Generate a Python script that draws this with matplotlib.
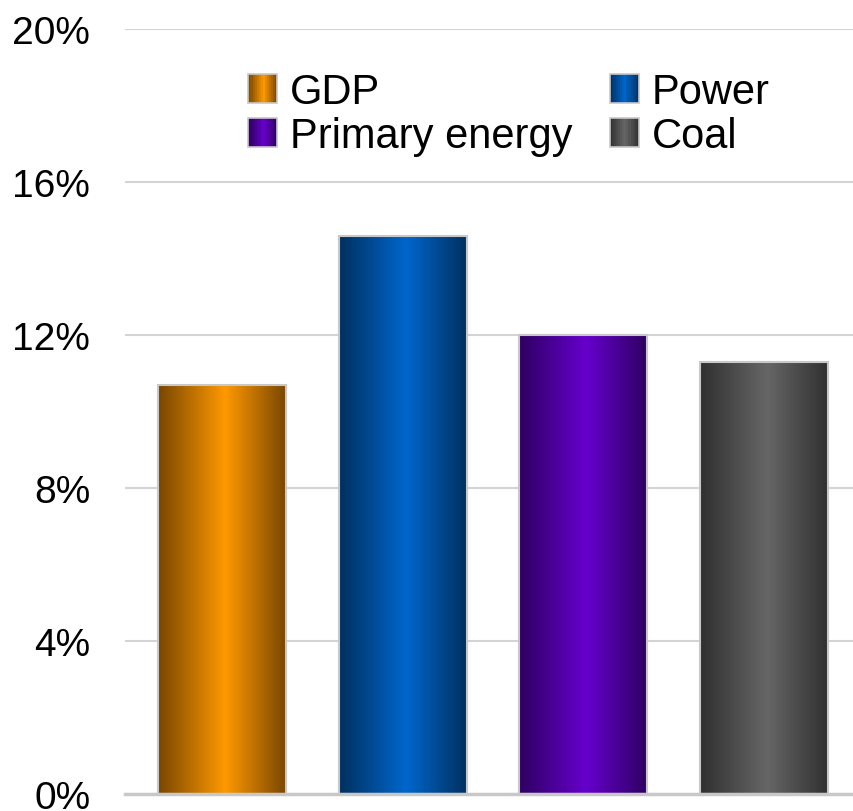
import matplotlib
matplotlib.use('Agg')
import matplotlib.pyplot as plt
import numpy as np
from matplotlib.colors import LinearSegmentedColormap
from matplotlib.legend_handler import HandlerBase
from matplotlib.patches import Rectangle, Patch

plt.rcParams['font.family'] = ['Liberation Sans', 'DejaVu Sans']

# data
categories = ['GDP', 'Power', 'Primary energy', 'Coal']
values = [10.7, 14.6, 12.0, 11.3]
bright = ['#ff9900', '#0066cc', '#6600cc', '#666666']
dark = ['#784600', '#00305e', '#2e0060', '#303030']
yticks = [0, 4, 8, 12, 16, 20]


def grad_cmap(c_dark, c_bright):
    return LinearSegmentedColormap.from_list('g', [(0, c_dark), (0.52, c_bright), (1, c_dark)])


class GradHandler(HandlerBase):
    def __init__(self, cmap):
        super().__init__()
        self.cmap = cmap

    def create_artists(self, legend, orig_handle, xdescent, ydescent, width, height, fontsize, trans):
        size = height * 0.98
        x0 = -xdescent + (width - size) / 2
        y0 = -ydescent + (height - size) / 2
        n = 14
        arts = []
        for i in range(n):
            r = Rectangle((x0 + size * i / n, y0), size / n + 0.3, size,
                          facecolor=self.cmap((i + 0.5) / n), edgecolor='none', transform=trans)
            arts.append(r)
        arts.append(Rectangle((x0, y0), size, size, facecolor='none', edgecolor='#c8c8c8', lw=1.2, transform=trans))
        return arts


fig = plt.figure(figsize=(8.54, 8.12), dpi=100)
ax = fig.add_axes([125 / 854, 1 - 795 / 812, 729 / 854, 765 / 812])

x = np.arange(len(categories))
bars = ax.bar(x, values, width=0.71, facecolor='none', edgecolor='#c8c8c8', linewidth=1.5, zorder=3)

cmaps = []
for b, cd, cb in zip(bars, dark, bright):
    cm = grad_cmap(cd, cb)
    cmaps.append(cm)
    x0, y0 = b.get_x(), b.get_y()
    w, h = b.get_width(), b.get_height()
    grad = np.linspace(0, 1, 256).reshape(1, -1)
    im = ax.imshow(grad, cmap=cm, extent=(x0, x0 + w, y0, y0 + h), aspect='auto', zorder=2)
    im.set_clip_path(b)

ax.set_xlim(-0.537, 3.498)
ax.set_ylim(0, 20)
ax.set_yticks(yticks)
ax.set_yticklabels([f'{v}%' for v in yticks], fontsize=28)
ax.tick_params(axis='y', length=0, pad=25)
ax.set_xticks([])
ax.yaxis.grid(True, color='#d4d4d4', linewidth=1.5, zorder=0)
ax.set_axisbelow(True)
for s in ['top', 'right', 'left']:
    ax.spines[s].set_visible(False)
ax.spines['bottom'].set_color('#c8c8c8')
ax.spines['bottom'].set_linewidth(2.5)
ax.spines['bottom'].set_zorder(4)

handles = [Patch(label=c) for c in categories]
handler_map = {h: GradHandler(cm) for h, cm in zip(handles, cmaps)}
order = [0, 2, 1, 3]
ax.legend([handles[i] for i in order], [categories[i] for i in order],
          handler_map=handler_map, ncol=2, frameon=False, fontsize=30,
          loc='upper left', bbox_to_anchor=(119 / 729, 0.944),
          handlelength=0.9, handletextpad=0.2, columnspacing=0.8,
          labelspacing=0.1, borderaxespad=0, borderpad=0)

fig.savefig('out.png', dpi=100)
